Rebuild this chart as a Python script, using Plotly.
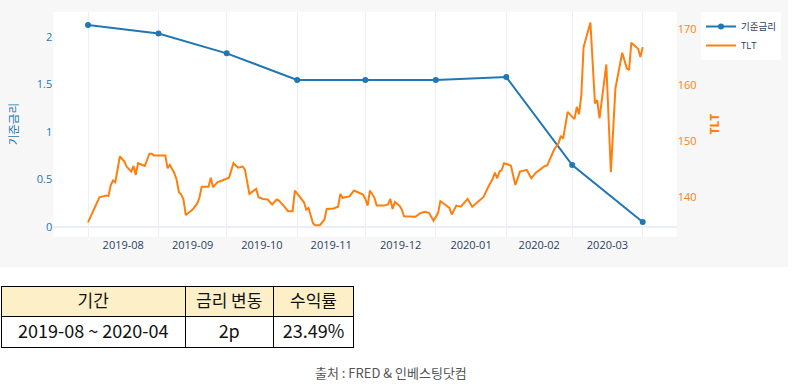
import plotly.graph_objects as go

# ---------------- data ----------------
rate_dates = ["2019-08-01", "2019-09-01", "2019-10-01", "2019-11-01", "2019-12-01",
              "2020-01-01", "2020-02-01", "2020-03-01", "2020-04-01"]
rate_values = [2.13, 2.04, 1.83, 1.55, 1.55, 1.55, 1.58, 0.65, 0.05]

tlt_dates = [
    "2019-08-01", "2019-08-04", "2019-08-06", "2019-08-08", "2019-08-09", "2019-08-10",
    "2019-08-11", "2019-08-12", "2019-08-13", "2019-08-15", "2019-08-17", "2019-08-18",
    "2019-08-20", "2019-08-21", "2019-08-22", "2019-08-23", "2019-08-25", "2019-08-26",
    "2019-08-28", "2019-08-29", "2019-08-30", "2019-09-04", "2019-09-05", "2019-09-06",
    "2019-09-08", "2019-09-09", "2019-09-10", "2019-09-11", "2019-09-12", "2019-09-13",
    "2019-09-16", "2019-09-18", "2019-09-19", "2019-09-20", "2019-09-23", "2019-09-24",
    "2019-09-25", "2019-09-27", "2019-09-29", "2019-10-02", "2019-10-04", "2019-10-06",
    "2019-10-08", "2019-10-09", "2019-10-11", "2019-10-14", "2019-10-15", "2019-10-17",
    "2019-10-19", "2019-10-21", "2019-10-23", "2019-10-24", "2019-10-26", "2019-10-28",
    "2019-10-30", "2019-10-31", "2019-11-02", "2019-11-04", "2019-11-05", "2019-11-06",
    "2019-11-08", "2019-11-09", "2019-11-11", "2019-11-13", "2019-11-14", "2019-11-17",
    "2019-11-19", "2019-11-20", "2019-11-21", "2019-11-24", "2019-11-26", "2019-11-28",
    "2019-11-30", "2019-12-01", "2019-12-02", "2019-12-03", "2019-12-05", "2019-12-06",
    "2019-12-09", "2019-12-11", "2019-12-12", "2019-12-13", "2019-12-14", "2019-12-16",
    "2019-12-17", "2019-12-18", "2019-12-21", "2019-12-23", "2019-12-25", "2019-12-27",
    "2019-12-29", "2019-12-31", "2020-01-02", "2020-01-03", "2020-01-05", "2020-01-07",
    "2020-01-08", "2020-01-10", "2020-01-12", "2020-01-15", "2020-01-17", "2020-01-19",
    "2020-01-22", "2020-01-24", "2020-01-26", "2020-01-27", "2020-01-28", "2020-01-29",
    "2020-01-30", "2020-01-31", "2020-02-01", "2020-02-03", "2020-02-05", "2020-02-07",
    "2020-02-10", "2020-02-12", "2020-02-14", "2020-02-16", "2020-02-18", "2020-02-19",
    "2020-02-22", "2020-02-24", "2020-02-25", "2020-02-26", "2020-02-28", "2020-03-01",
    "2020-03-02", "2020-03-03", "2020-03-04", "2020-03-05", "2020-03-06", "2020-03-09",
    "2020-03-11", "2020-03-12", "2020-03-13", "2020-03-16", "2020-03-18", "2020-03-20",
    "2020-03-23", "2020-03-25", "2020-03-26", "2020-03-27", "2020-03-30", "2020-03-31",
    "2020-04-01",
]
tlt_values = [
    135.4, 138.0, 139.9, 140.1, 140.2, 140.1,
    142.1, 142.9, 142.6, 147.2, 146.3, 145.4,
    144.5, 145.5, 143.9, 146.0, 145.7, 145.5,
    147.7, 147.7, 147.4, 147.4, 145.1, 145.7,
    144.2, 143.0, 140.8, 140.4, 139.5, 136.7,
    137.7, 138.75, 139.8, 141.8, 141.8, 143.4,
    141.7, 142.6, 142.9, 143.4, 146.0, 145.2,
    145.4, 144.9, 140.5, 141.4, 139.9, 139.6,
    139.5, 138.6, 139.5, 139.3, 138.4, 137.4,
    137.4, 141.1, 140.05, 139.0, 137.7, 138.0,
    135.2, 134.9, 134.9, 135.9, 137.8, 137.9,
    138.2, 140.5, 139.8, 140.05, 141.1, 140.8,
    140.4, 139.6, 138.4, 141.1, 139.8, 138.4,
    138.4, 138.6, 139.6, 137.8, 139.05, 138.4,
    137.7, 136.5, 136.5, 136.4, 137.0, 137.3,
    137.1, 135.7, 137.1, 139.2, 138.6, 138.0,
    136.8, 138.4, 138.2, 139.6, 138.2, 138.9,
    139.95, 141.7, 143.2, 144.3, 143.3, 144.5,
    144.8, 146.0, 145.9, 145.6, 142.1, 144.5,
    144.8, 143.3, 144.3, 144.9, 145.5, 145.6,
    148.4, 149.6, 150.9, 150.4, 155.2, 154.3,
    153.9, 156.1, 154.8, 158.2, 166.8, 171.2,
    156.7, 157.3, 154.05, 163.7, 144.4, 159.4,
    165.8, 163.0, 162.7, 167.6, 166.5, 165.05,
    166.8,
]

table_header = ["기간", "금리 변동", "수익률"]
table_row = ["2019-08 ~ 2020-04", "2p", "23.49%"]
source_text = "출처 : FRED & 인베스팅닷컴"

# ---------------- layout helpers ----------------
W, H = 792, 387
def px(x):
    return x / W
def py(y):
    return 1 - y / H

FONT = "Open Sans, Noto Sans CJK KR, sans-serif"
KFONT = "Noto Sans CJK KR, sans-serif"
BLUE = "#1f77b4"
ORANGE = "#ff7f0e"
GREY_BG = "#f7f7f8"

fig = go.Figure()
fig.add_trace(go.Scatter(
    x=rate_dates, y=rate_values, name="기준금리", mode="lines+markers",
    line=dict(color=BLUE, width=2), marker=dict(size=6, color=BLUE), yaxis="y",
))
fig.add_trace(go.Scatter(
    x=tlt_dates, y=tlt_values, name="TLT", mode="lines",
    line=dict(color=ORANGE, width=2), yaxis="y2",
))
fig.add_trace(go.Table(
    domain=dict(x=[px(1.5), px(353.5)], y=[py(352), py(286.5)]),
    columnwidth=[183.3, 88.3, 80],
    header=dict(values=table_header, fill_color="#fdefc8",
                line=dict(color="black", width=1), align="center", height=30,
                font=dict(family=KFONT, size=17, color="#111111")),
    cells=dict(values=[[v] for v in table_row], fill_color="white",
               line=dict(color="black", width=1), align="center", height=31,
               font=dict(family=KFONT, size=18, color="#111111")),
))

fig.update_layout(
    width=W, height=H,
    margin=dict(l=0, r=0, t=0, b=0),
    paper_bgcolor=GREY_BG,
    plot_bgcolor="white",
    font=dict(family=FONT, size=11, color="#2a3f5f"),
    showlegend=True,
    legend=dict(x=px(701), y=py(12), xanchor="left", yanchor="top",
                bgcolor="white", font=dict(size=9.5, color="#2a3f5f"),
                itemwidth=30),
    xaxis=dict(
        domain=[px(53.3), px(676.7)],
        range=["2019-07-16 17:30", "2020-04-15 23:00"],
        dtick="M1", tickformat="%Y-%m", ticklabelmode="period",
        showgrid=True, gridcolor="#EBF0F8", gridwidth=1,
        zeroline=False, showline=False, ticks="",
        tickfont=dict(size=11, color="#2a3f5f"), automargin=False,
    ),
    yaxis=dict(
        domain=[py(236.7), py(11.7)],
        range=[-0.106, 2.27], dtick=0.5,
        showgrid=False, zeroline=True, zerolinecolor="#EBF0F8", zerolinewidth=2,
        title=dict(text="기준금리", font=dict(color=BLUE, size=11.5, family=KFONT)),
        tickfont=dict(color=BLUE, size=11), automargin=False,
    ),
    yaxis2=dict(
        overlaying="y", side="right", anchor="x",
        range=[132.83, 173.15], dtick=10,
        showgrid=False, zeroline=False,
        title=dict(text="<b>TLT</b>", font=dict(color=ORANGE, size=12)),
        tickfont=dict(color=ORANGE, size=11), automargin=False,
    ),
    shapes=[
        # white page area below the chart panel and at its right edge
        dict(type="rect", xref="paper", yref="paper", layer="below",
             x0=0, x1=1, y0=0, y1=py(267),
             fillcolor="white", line=dict(width=0)),
        dict(type="rect", xref="paper", yref="paper", layer="below",
             x0=px(788), x1=1, y0=py(267), y1=1,
             fillcolor="white", line=dict(width=0)),
    ],
    annotations=[dict(text=source_text, xref="paper", yref="paper",
                      x=px(391), y=py(372), showarrow=False,
                      xanchor="center", yanchor="middle",
                      font=dict(family=KFONT, size=13, color="#555555"))],
)

fig.write_html("out.html", config={"displayModeBar": False},
               post_script="document.body.style.margin='0';")
